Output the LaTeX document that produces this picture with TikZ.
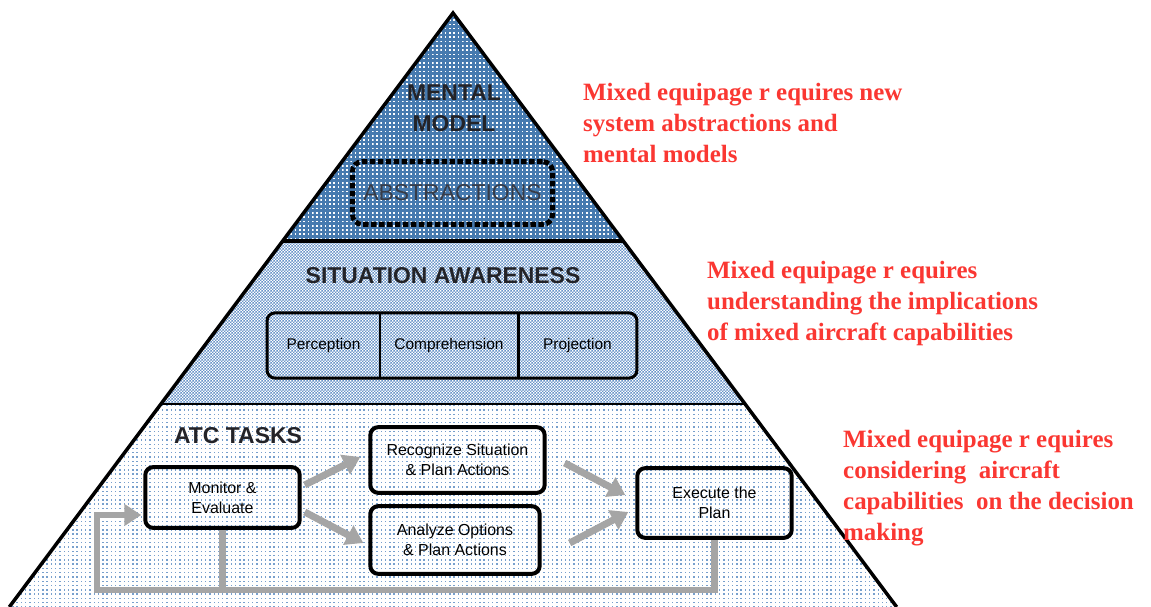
\documentclass[tikz,border=0pt]{standalone}
\usepackage{fontspec}
\setmainfont{Liberation Serif}
\setsansfont{Liberation Sans}
\usetikzlibrary{arrows.meta,patterns,calc}
\definecolor{topblue}{RGB}{70,122,175}
\definecolor{chkblue}{RGB}{105,148,200}
\definecolor{dotblue}{RGB}{120,160,205}
\definecolor{arrgray}{RGB}{165,165,165}
\definecolor{redtxt}{RGB}{250,55,50}
\definecolor{hdrtxt}{RGB}{35,35,40}
\definecolor{abstxt}{RGB}{55,60,72}
\pgfdeclarepatternformonly{tdots}{\pgfqpoint{-1pt}{-1pt}}{\pgfqpoint{1pt}{1pt}}{\pgfqpoint{4.3pt}{4.3pt}}{\pgfpathrectangle{\pgfqpoint{-0.85pt}{-0.85pt}}{\pgfqpoint{1.7pt}{1.7pt}}\pgfusepath{fill}}
\pgfdeclarepatternformonly{bdots}{\pgfqpoint{-1pt}{-1pt}}{\pgfqpoint{1pt}{1pt}}{\pgfqpoint{4.3pt}{4.3pt}}{\pgfpathrectangle{\pgfqpoint{-0.7pt}{-0.7pt}}{\pgfqpoint{1.4pt}{1.4pt}}\pgfusepath{fill}}
\pgfdeclarepatternformonly{mchk}{\pgfqpoint{0pt}{0pt}}{\pgfqpoint{3pt}{3pt}}{\pgfqpoint{3pt}{3pt}}{\pgfpathrectangle{\pgfqpoint{0pt}{0pt}}{\pgfqpoint{1.5pt}{1.5pt}}\pgfpathrectangle{\pgfqpoint{1.5pt}{1.5pt}}{\pgfqpoint{1.5pt}{1.5pt}}\pgfusepath{fill}}
\tikzset{
  hdr/.style={font=\sffamily\bfseries\fontsize{23}{31}\selectfont, text=hdrtxt, align=center, inner sep=0},
  redblock/.style={font=\bfseries\fontsize{25}{31}\selectfont, text=redtxt, align=left, anchor=north west, inner sep=0},
  tbox/.style={draw, line width=4, rounded corners=8, font=\sffamily\fontsize{16}{20}\selectfont, align=center, inner sep=2},
  cell/.style={font=\sffamily\fontsize{15.5}{19}\selectfont, inner sep=0, minimum height=65},
  garrow/.style={draw=arrgray, line width=7, -{Triangle[length=17bp,width=21bp]}},
  gline/.style={draw=arrgray, line width=7}
}
\begin{document}
\begin{tikzpicture}[x=1bp,y=-1bp]
\useasboundingbox (0,0) rectangle (1151,607);
% pyramid sections
\coordinate (apex) at (453,13);
\coordinate (l1) at (282.7,241); \coordinate (r1) at (623.3,241);
\coordinate (l2) at (160.9,404); \coordinate (r2) at (745.1,404);
\coordinate (l3) at (9.3,607);   \coordinate (r3) at (896.7,607);
\fill[topblue] (apex) -- (r1) -- (l1) -- cycle;
\fill[pattern=tdots, pattern color=white] (apex) -- (r1) -- (l1) -- cycle;
\fill[white] (l1) -- (r1) -- (r2) -- (l2) -- cycle;
\fill[pattern=mchk, pattern color=chkblue] (l1) -- (r1) -- (r2) -- (l2) -- cycle;
\fill[white] (l2) -- (r2) -- (r3) -- (l3) -- cycle;
\fill[pattern=bdots, pattern color=dotblue] (l2) -- (r2) -- (r3) -- (l3) -- cycle;
\draw[line width=4] (l1) -- (r1);
\draw[line width=3] (l2) -- (r2);
\draw[line width=3.5] (l3) -- (apex) -- (r3);
% mental model
\node[hdr] (mm) at (454,108) {MENTAL\\MODEL};
\node[draw, line width=5, dash pattern=on 5.5 off 2.5, rounded corners=10, minimum width=201, minimum height=63,
      font=\sffamily\fontsize{23}{27}\selectfont, text=abstxt] (abs) at (452.5,193) {ABSTRACTIONS};
% situation awareness
\node[hdr] (sa) at (443,276) {SITUATION AWARENESS};
\node[cell, minimum width=113] (per) at (323.5,345.5) {Perception};
\node[cell, minimum width=138] (comp) at (449,345.5) {Comprehension};
\node[cell, minimum width=119] (proj) at (577.5,345.5) {Projection};
\draw[line width=3, rounded corners=8] (per.north west) rectangle (proj.south east);
\draw[line width=1.5] (per.north east) -- (per.south east);
\draw[line width=3] (proj.north west) -- (proj.south west);
% ATC tasks
\node[hdr] (atc) at (238,436) {ATC TASKS};
\node[tbox, minimum width=155, minimum height=61] (mon) at (222.5,497.5) {Monitor \&\\Evaluate};
\node[tbox, minimum width=175, minimum height=66] (rec) at (457.5,460) {Recognize Situation\\\& Plan Actions};
\node[tbox, minimum width=170, minimum height=68] (ana) at (455,540) {Analyze Options\\\& Plan Actions};
\node[tbox, minimum width=155, minimum height=70] (exe) at (714.5,503) {Execute the\\Plan};
\coordinate (bl) at (97,590);
\draw[garrow] ($(mon.east)+(3,-12.5)$) -- ($(rec.west)+(-8,-3)$);
\draw[garrow] ($(mon.east)+(3,14.5)$) -- ($(ana.west)+(-5,3)$);
\draw[garrow] ($(rec.east)+(18,3)$) -- ($(exe.west)+(-10,-8)$);
\draw[garrow] ($(ana.east)+(28,3)$) -- ($(exe.west)+(-7,9)$);
\draw[gline] (mon.south) -- (mon.south |- bl);
\draw[garrow] (exe.south) |- (bl) |- ($(mon.west)+(-2,17.5)$);
% red comments
\node[redblock] (c1) at (583,83) {Mixed equipage r equires new\\system abstractions and\\mental models};
\node[redblock] (c2) at (707,261) {Mixed equipage r equires\\understanding the implications\\of mixed aircraft capabilities};
\node[redblock] (c3) at (843,430) {Mixed equipage r equires\\considering\ \ aircraft\\capabilities\ \ on the decision\\making};
\end{tikzpicture}
\end{document}
